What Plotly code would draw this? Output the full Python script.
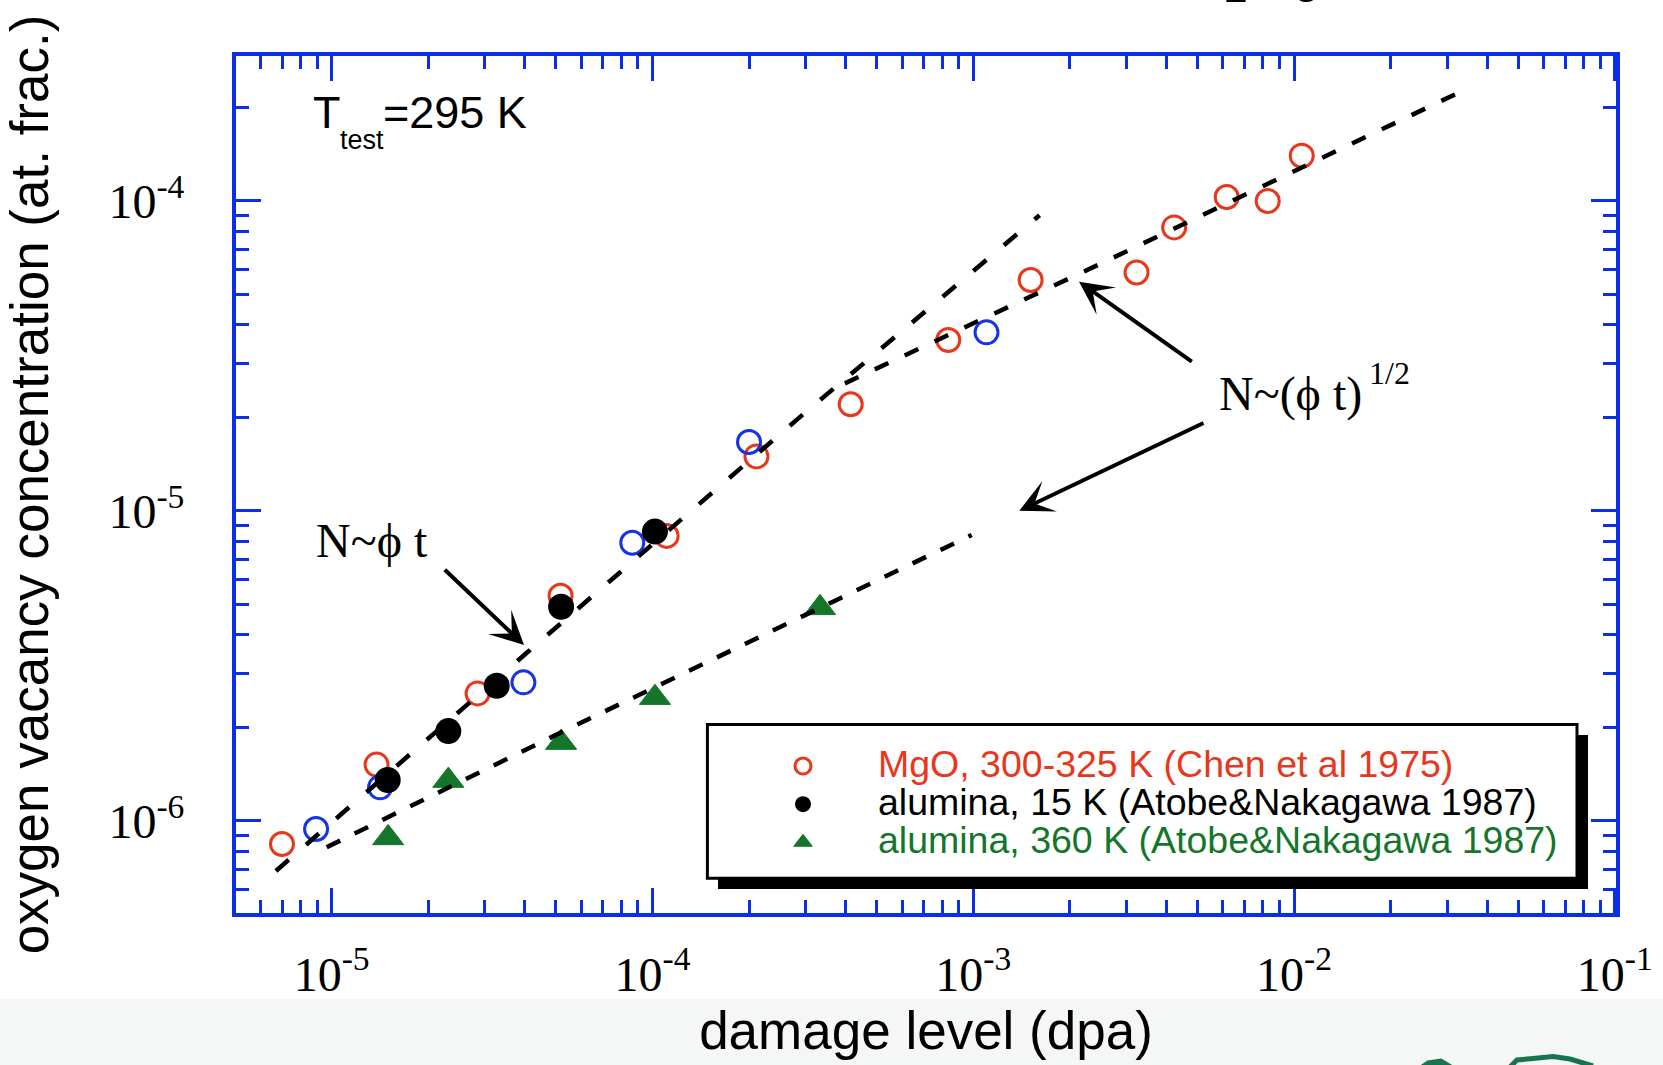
import plotly.graph_objects as go

# ---------------------------------------------------------------- data ----
# MgO, 300-325 K (Chen et al 1975)
mgo_dpa = [7.0e-6, 1.38e-5, 2.85e-5, 5.17e-5, 1.107e-4, 2.11e-4, 4.15e-4,
           8.36e-4, 1.51e-3, 3.23e-3, 4.23e-3, 6.17e-3, 8.28e-3, 1.057e-2]
mgo_conc = [8.43e-7, 1.52e-6, 2.58e-6, 5.33e-6, 8.31e-6, 1.50e-5, 2.21e-5,
            3.56e-5, 5.56e-5, 5.88e-5, 8.22e-5, 1.03e-4, 1.00e-4, 1.40e-4]

# MgO, second data set (open blue circles, no legend entry)
mgo2_dpa = [8.94e-6, 1.415e-5, 3.96e-5, 8.65e-5, 2.00e-4, 1.10e-3]
mgo2_conc = [9.42e-7, 1.284e-6, 2.80e-6, 7.90e-6, 1.67e-5, 3.77e-5]

# alumina, 15 K (Atobe & Nakagawa 1987)
al15_dpa = [1.495e-5, 2.31e-5, 3.27e-5, 5.19e-5, 1.018e-4]
al15_conc = [1.356e-6, 1.95e-6, 2.73e-6, 4.91e-6, 8.58e-6]

# alumina, 360 K (Atobe & Nakagawa 1987)
al360_dpa = [1.50e-5, 2.31e-5, 5.19e-5, 1.018e-4, 3.33e-4]
al360_conc = [8.82e-7, 1.35e-6, 1.79e-6, 2.50e-6, 4.87e-6]

# dashed guide lines: N ~ phi*t and the two N ~ (phi*t)^1/2 branches
lin_dpa = [6.7e-6, 4.1e-5, 2.85e-4, 1.61e-3]
lin_conc = [6.9e-7, 3.52e-6, 1.99e-5, 9.0e-5]
sqrt_hi_dpa = [3.98e-4, 2.45e-3, 3.33e-2]
sqrt_hi_conc = [2.58e-5, 6.22e-5, 2.26e-4]
sqrt_lo_dpa = [9.65e-6, 5.40e-5, 9.89e-4]
sqrt_lo_conc = [8.23e-7, 1.97e-6, 8.37e-6]

# tick labels
x_tick_vals = [1e-5, 1e-4, 1e-3, 1e-2, 1e-1]
x_tick_text = ["10<sup>-5</sup>", "10<sup>-4</sup>", "10<sup>-3</sup>",
               "10<sup>-2</sup>", "10<sup>-1</sup>"]
y_tick_vals = [1e-6, 1e-5, 1e-4]
y_tick_text = ["10<sup>-6</sup>", "10<sup>-5</sup>", "10<sup>-4</sup>"]
minor_vals = [m * 10.0 ** e for e in range(-7, 0) for m in range(2, 10)]

# ------------------------------------------------------------- styling ----
RED = "#e8371c"
BLUE = "#1434e6"
GREEN = "#13762a"
AXIS_BLUE = "#0b2fe6"
SANS = "Liberation Sans"
SERIF = "Liberation Serif"

FIG_W, FIG_H = 1663, 1065
L, R, T, B = 236, 47, 56, 152
W = FIG_W - L - R
H = FIG_H - T - B
X_RANGE = [-5.2983, -0.9962]
Y_RANGE = [-6.2968, -3.5323]


def ax_x(px):
    """pixel column -> log10 x data coordinate"""
    return X_RANGE[0] + (px - L) / W * (X_RANGE[1] - X_RANGE[0])


def ax_y(py):
    """pixel row -> log10 y data coordinate"""
    return Y_RANGE[0] + (T + H - py) / H * (Y_RANGE[1] - Y_RANGE[0])


def pp_x(px):
    return (px - L) / W


def pp_y(py):
    return (T + H - py) / H


def legend_label(text, color):
    return f'<span style="font-size:37.5px;color:{color}">{text}</span>'


fig = go.Figure()

fig.add_trace(go.Scatter(
    x=mgo_dpa, y=mgo_conc, mode="markers",
    name=legend_label("MgO, 300-325 K (Chen et al 1975)", RED),
    marker=dict(symbol="circle-open", size=23, color=RED, line=dict(width=3))))
fig.add_trace(go.Scatter(
    x=mgo2_dpa, y=mgo2_conc, mode="markers", name="MgO", showlegend=False,
    marker=dict(symbol="circle-open", size=23, color=BLUE, line=dict(width=3))))
fig.add_trace(go.Scatter(
    x=al15_dpa, y=al15_conc, mode="markers",
    name=legend_label("alumina, 15 K (Atobe&amp;Nakagawa 1987)", "#000000"),
    marker=dict(symbol="circle", size=26, color="#000000")))
fig.add_trace(go.Scatter(
    x=al360_dpa, y=al360_conc, mode="markers",
    name=legend_label("alumina, 360 K (Atobe&amp;Nakagawa 1987)", GREEN),
    marker=dict(symbol="triangle-up", size=27, color=GREEN,
                line=dict(width=1, color=GREEN))))

for xs, ys, dash in [(lin_dpa, lin_conc, "17px,23px"),
                     (sqrt_hi_dpa, sqrt_hi_conc, "15px,18px"),
                     (sqrt_lo_dpa, sqrt_lo_conc, "15px,16px")]:
    fig.add_trace(go.Scatter(x=xs, y=ys, mode="lines", showlegend=False,
                             hoverinfo="skip",
                             line=dict(color="black", width=4.5, dash=dash)))

axis_common = dict(
    type="log", showline=True, linecolor=AXIS_BLUE, linewidth=4,
    mirror="allticks", ticks="inside", ticklen=25, tickwidth=3,
    tickcolor=AXIS_BLUE, showgrid=False, zeroline=False,
    tickfont=dict(family=SERIF, size=48, color="black"),
    tickmode="array",
    minor=dict(ticks="inside", ticklen=13, tickwidth=3, tickcolor=AXIS_BLUE,
               tickmode="array", tickvals=minor_vals, showgrid=False),
)

fig.update_xaxes(**axis_common, range=X_RANGE, tickvals=x_tick_vals,
                 ticktext=x_tick_text, ticklabelstandoff=16,
                 title=dict(text="damage level (dpa)", standoff=0,
                            font=dict(family=SANS, size=53, color="black")))
fig.update_yaxes(**axis_common, range=Y_RANGE, tickvals=y_tick_vals,
                 ticktext=y_tick_text, ticklabelstandoff=38,
                 title=dict(text="oxygen vacancy concentration (at. frac.)",
                            standoff=45,
                            font=dict(family=SANS, size=53, color="black")))

annotations = []


def text_ann(text, left_px, mid_px, size, family):
    annotations.append(dict(
        text=text, xref="x", yref="y", x=ax_x(left_px), y=ax_y(mid_px),
        xanchor="left", yanchor="middle", showarrow=False,
        font=dict(family=family, size=size, color="black")))


# T_test = 295 K
text_ann("T", 310.5, 112.7, 45, SANS)
text_ann("test", 337.5, 139.6, 27, SANS)
text_ann("=295 K", 380.5, 112.7, 45, SANS)
# growth-law labels
text_ann("N~\u03d5 t", 313.5, 540.5, 48, SERIF)
text_ann("N~(\u03d5 t)", 1216.5, 393.8, 48, SERIF)
text_ann("1/2", 1367, 372.5, 32, SERIF)


def arrow(tip_px, tail_px):
    annotations.append(dict(
        text="", xref="x", yref="y", x=ax_x(tip_px[0]), y=ax_y(tip_px[1]),
        ax=tail_px[0] - tip_px[0], ay=tail_px[1] - tip_px[1],
        showarrow=True, arrowhead=3, arrowsize=1.4, arrowwidth=4,
        arrowcolor="black", standoff=0))


arrow((524, 645), (443.3, 568.3))
arrow((1079, 281.7), (1193.3, 362.7))
arrow((1019.3, 510.7), (1205, 422.3))

# heading above the frame (only its subscripts reach into view)
annotations.append(dict(
    text="Al<sub>2</sub>O<sub>3</sub>", xref="paper", yref="paper",
    x=pp_x(1320), y=pp_y(13), xanchor="right", yanchor="bottom",
    showarrow=False, font=dict(family=SANS, size=60, color="black")))

shapes = []
# legend frame with drop shadow
shapes.append(dict(type="rect", xref="paper", yref="paper", layer="above",
                   x0=pp_x(718), x1=pp_x(1588), y0=pp_y(889), y1=pp_y(735),
                   fillcolor="black", line=dict(width=0)))
shapes.append(dict(type="rect", xref="paper", yref="paper", layer="above",
                   x0=pp_x(707.4), x1=pp_x(1577), y0=pp_y(878.2),
                   y1=pp_y(724.4), fillcolor="white",
                   line=dict(color="black", width=3)))
# pale band along the bottom of the page
shapes.append(dict(type="rect", xref="paper", yref="paper", layer="below",
                   x0=pp_x(0), x1=pp_x(FIG_W), y0=pp_y(FIG_H), y1=pp_y(999),
                   fillcolor="#f4f7f5", line=dict(width=0)))


def path_from(points, close=True):
    d = "M " + " L ".join(f"{pp_x(px):.5f},{pp_y(py):.5f}" for px, py in points)
    return d + (" Z" if close else "")


# logo fragments at the bottom edge
shapes.append(dict(type="path", xref="paper", yref="paper", layer="below",
                   path=path_from([(1422, 1066), (1428, 1062), (1441, 1060),
                                   (1451, 1066)]),
                   fillcolor="#17744f", line=dict(color="#17744f", width=3)))
shapes.append(dict(type="path", xref="paper", yref="paper", layer="below",
                   path=path_from([(1510, 1067), (1517, 1060), (1533, 1058.5),
                                   (1553, 1056.5), (1570, 1059), (1593, 1066)],
                                  close=False),
                   line=dict(color="#17744f", width=5)))

fig.update_layout(
    width=FIG_W, height=FIG_H,
    margin=dict(l=L, r=R, t=T, b=B, autoexpand=False),
    paper_bgcolor="white", plot_bgcolor="white",
    showlegend=True,
    legend=dict(x=pp_x(728), xanchor="left", y=pp_y(742), yanchor="top",
                bgcolor="rgba(0,0,0,0)", borderwidth=0,
                font=dict(family=SANS, size=27, color="black"),
                itemwidth=140, tracegroupgap=0, traceorder="normal"),
    annotations=annotations,
    shapes=shapes,
)

fig.write_html("out.html")
